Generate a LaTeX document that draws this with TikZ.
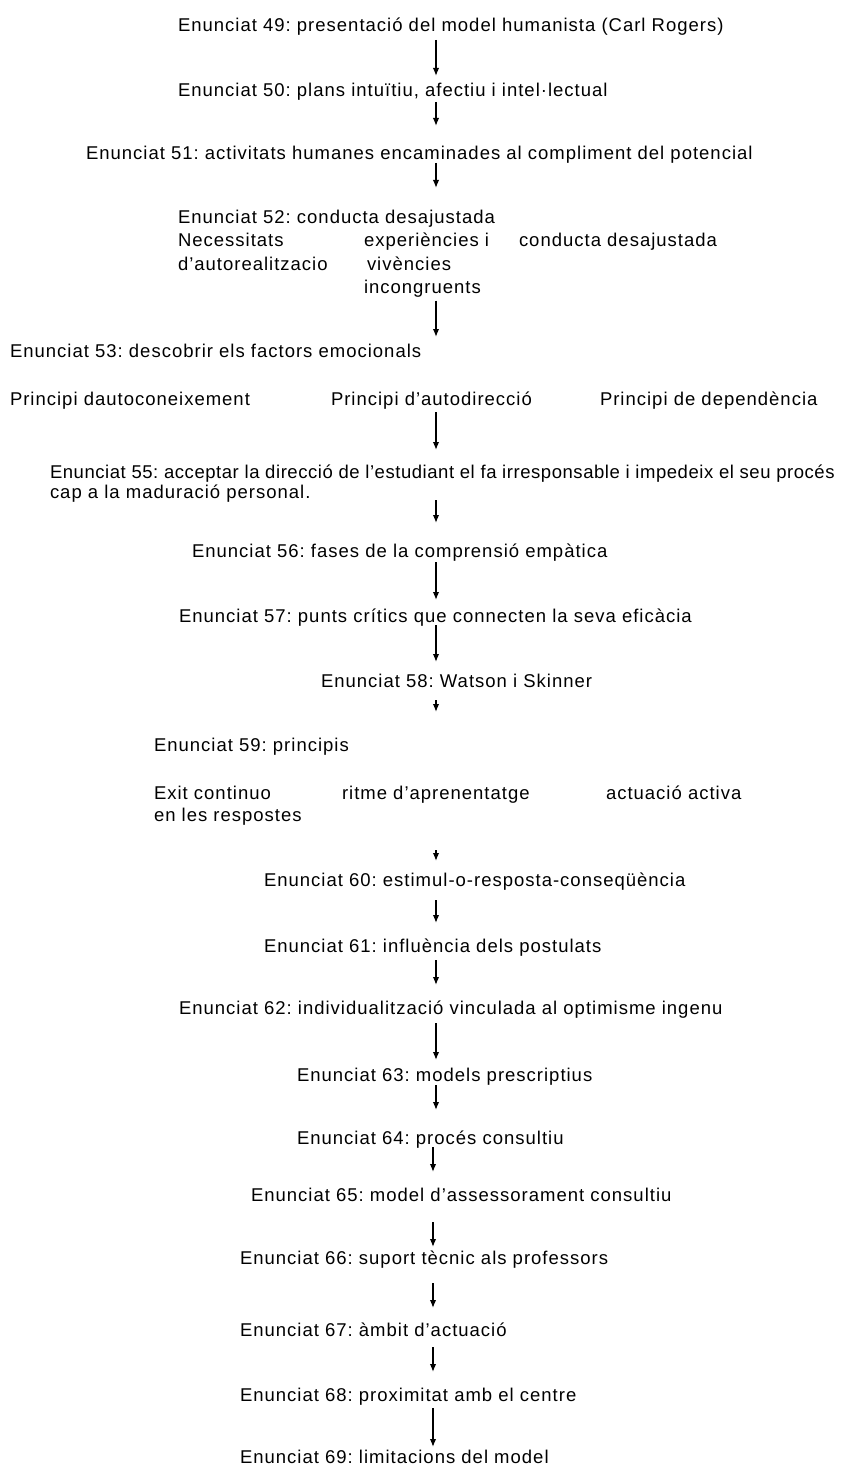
\documentclass[tikz,border=0pt]{standalone}
\usepackage{fontspec}
\setmainfont[LetterSpace=5.4]{Liberation Sans}
\usetikzlibrary{calc,arrows.meta}
\frenchspacing
\begin{document}
\begin{tikzpicture}[x=1pt,y=-1pt,
  txt/.style={anchor=base west,inner sep=0pt,outer sep=0pt,
    font=\fontsize{18.5}{23.5}\selectfont},
  tighttxt/.style={txt,font=\fontsize{18.5}{23.5}\selectfont\addfontfeatures{LetterSpace=3.0}},
  arr/.style={line width=1.5pt,-{Latex[length=8pt,width=6.5pt]}}]
\fill[white] (0,0) rectangle (866,1466);
\useasboundingbox (0,0) rectangle (866,1466);
\coordinate (ax) at (436,0);
\coordinate (bx) at (433,0);
% link: from node #1 (down #2) to node #3 (up #4) along column #5
\newcommand\link[5]{\draw[arr] ($(#1.base -| #5)+(0,#2)$) -- ($(#3.base -| #5)+(0,-#4)$);}

\node[txt] (t49) at (178,32) {Enunciat 49: presentació del model humanista (Carl Rogers)};
\node[txt] (t50) at (178,97) {Enunciat 50: plans intuïtiu, afectiu i intel·lectual};
\node[txt] (t51) at (86,160) {Enunciat 51: activitats humanes encaminades al compliment del potencial};
\node[txt] (t52) at (178,223) {Enunciat 52: conducta desajustada};
\node[txt] (c1a) at (178,246.5) {Necessitats};
\node[txt] (c1b) at (178,270) {d’autorealitzacio};
\node[txt] (c2a) at (364,246.5) {experiències i};
\node[txt] (c2b) at (367,270) {vivències};
\node[txt] (c2c) at (364,293.5) {incongruents};
\node[txt] (c3a) at (519,246.5) {conducta desajustada};
\node[txt] (t53) at (10,357) {Enunciat 53: descobrir els factors emocionals};
\node[txt] (p1) at (10,405) {Principi dautoconeixement};
\node[txt] (p2) at (331,405) {Principi d’autodirecció};
\node[txt] (p3) at (600,405) {Principi de dependència};
\node[tighttxt] (t55) at (50,478) {Enunciat 55: acceptar la direcció de l’estudiant el fa irresponsable i impedeix el seu procés};
\node[txt] (t55b) at (50,498) {cap a la maduració personal.};
\node[txt] (t56) at (192,557) {Enunciat 56: fases de la comprensió empàtica};
\node[txt] (t57) at (179,622) {Enunciat 57: punts crítics que connecten la seva eficàcia};
\node[txt] (t58) at (321,687) {Enunciat 58: Watson i Skinner};
\node[txt] (t59) at (154,751) {Enunciat 59: principis};
\node[txt] (e1a) at (154,799) {Exit continuo};
\node[txt] (e1b) at (154,821) {en les respostes};
\node[txt] (e2) at (342,799) {ritme d’aprenentatge};
\node[txt] (e3) at (606,799) {actuació activa};
\node[txt] (t60) at (264,886) {Enunciat 60: estimul-o-resposta-conseqüència};
\node[txt] (t61) at (264,952) {Enunciat 61: influència dels postulats};
\node[txt] (t62) at (179,1014) {Enunciat 62: individualització vinculada al optimisme ingenu};
\node[txt] (t63) at (297,1081) {Enunciat 63: models prescriptius};
\node[txt] (t64) at (297,1144) {Enunciat 64: procés consultiu};
\node[txt] (t65) at (251,1201) {Enunciat 65: model d’assessorament consultiu};
\node[txt] (t66) at (240,1264) {Enunciat 66: suport tècnic als professors};
\node[txt] (t67) at (240,1336) {Enunciat 67: àmbit d’actuació};
\node[txt] (t68) at (240,1401) {Enunciat 68: proximitat amb el centre};
\node[txt] (t69) at (240,1463) {Enunciat 69: limitacions del model};

\link{t49}{8}{t50}{21}{ax}
\link{t50}{5}{t51}{34}{ax}
\link{t51}{3}{t52}{35}{ax}
\link{c2c}{7}{t53}{20}{ax}
\link{p2}{7}{t55}{28}{ax}
\link{t55b}{2}{t56}{34}{ax}
\link{t56}{5}{t57}{22}{ax}
\link{t57}{3}{t58}{25}{ax}
\link{t58}{13}{t59}{39}{ax}
\link{e1b}{29}{t60}{25}{ax}
\link{t60}{14}{t61}{29}{ax}
\link{t61}{8}{t62}{29}{ax}
\link{t62}{9}{t63}{21}{ax}
\link{t63}{4}{t64}{34}{ax}
\link{t64}{3}{t65}{29}{bx}
\link{t65}{21}{t66}{17}{bx}
\link{t66}{19}{t67}{28}{bx}
\link{t67}{11}{t68}{29}{bx}
\link{t68}{7}{t69}{16}{bx}
\end{tikzpicture}
\end{document}
